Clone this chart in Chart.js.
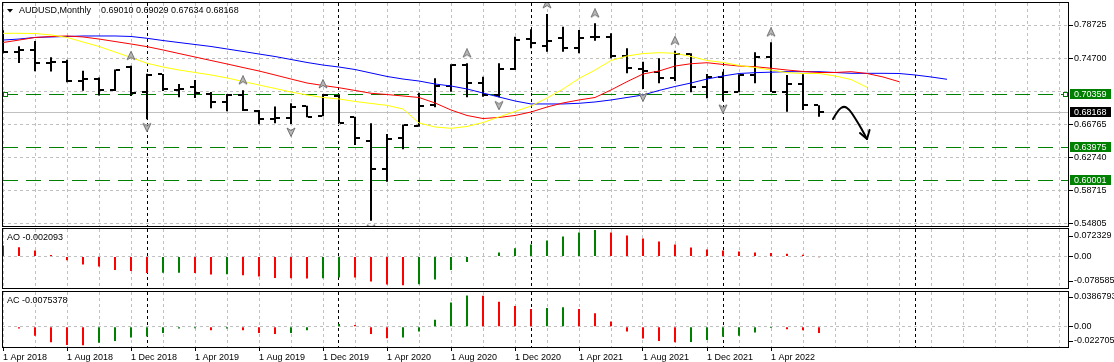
<!DOCTYPE html>
<html>
<head>
<meta charset="utf-8">
<title>AUDUSD, Monthly</title>
<script src="https://cdn.jsdelivr.net/npm/chart.js@4.4.1/dist/chart.umd.min.js"></script>
<style>
    html, body { margin: 0; padding: 0; background: #fff; }
    #wrap { position: relative; width: 1114px; height: 362px; overflow: hidden; background: #fff; }
    #wrap canvas { position: absolute; left: 0; }
</style>
</head>
<body>
<div id="wrap">
    <canvas id="mainChart" width="1114" height="227" style="top:0px"></canvas>
    <canvas id="aoChart" width="1114" height="62" style="top:227px"></canvas>
    <canvas id="acChart" width="1114" height="72" style="top:290px"></canvas>
</div>
<script>
// Monthly bars, first visible one is April 2018
const months = [
    'Apr 2018', 'May 2018', 'Jun 2018', 'Jul 2018', 'Aug 2018', 'Sep 2018', 'Oct 2018', 'Nov 2018', 'Dec 2018',
    'Jan 2019', 'Feb 2019', 'Mar 2019', 'Apr 2019', 'May 2019', 'Jun 2019', 'Jul 2019', 'Aug 2019', 'Sep 2019',
    'Oct 2019', 'Nov 2019', 'Dec 2019', 'Jan 2020', 'Feb 2020', 'Mar 2020', 'Apr 2020', 'May 2020', 'Jun 2020',
    'Jul 2020', 'Aug 2020', 'Sep 2020', 'Oct 2020', 'Nov 2020', 'Dec 2020', 'Jan 2021', 'Feb 2021', 'Mar 2021',
    'Apr 2021', 'May 2021', 'Jun 2021', 'Jul 2021', 'Aug 2021', 'Sep 2021', 'Oct 2021', 'Nov 2021', 'Dec 2021',
    'Jan 2022', 'Feb 2022', 'Mar 2022', 'Apr 2022', 'May 2022', 'Jun 2022', 'Jul 2022'
];

const opens = [
    0.7678, 0.7545, 0.7565, 0.7410, 0.7425, 0.7195, 0.7225, 0.7085, 0.7360, 0.7065,
    0.7275, 0.7090, 0.7125, 0.7035, 0.6940, 0.7025, 0.6840, 0.6738, 0.6748, 0.6895,
    0.6772, 0.7015, 0.6760, 0.6472, 0.6130, 0.6510, 0.6650, 0.6906, 0.7136, 0.7390,
    0.7168, 0.7027, 0.7341, 0.7700, 0.7623, 0.7712, 0.7591, 0.7724, 0.7724, 0.7498,
    0.7337, 0.7309, 0.7236, 0.7519, 0.7127, 0.7248, 0.7067, 0.7269, 0.7483, 0.7067,
    0.7160, 0.69010
];
const highs = [
    0.7810, 0.7615, 0.7680, 0.7482, 0.7452, 0.7320, 0.7240, 0.7335, 0.7380, 0.7285,
    0.7280, 0.7160, 0.7208, 0.7062, 0.7040, 0.7085, 0.6846, 0.6887, 0.6927, 0.6898,
    0.7039, 0.7027, 0.6765, 0.6685, 0.6557, 0.6670, 0.7055, 0.7229, 0.7398, 0.7410,
    0.7249, 0.7410, 0.7731, 0.7821, 0.8005, 0.7852, 0.7812, 0.7893, 0.7772, 0.7591,
    0.7429, 0.7470, 0.7562, 0.7531, 0.7281, 0.7309, 0.7277, 0.7543, 0.7664, 0.7269,
    0.7277, 0.69029
];
const lows = [
    0.7531, 0.7414, 0.7315, 0.7310, 0.7180, 0.7080, 0.7020, 0.7075, 0.7015, 0.6734,
    0.7075, 0.7000, 0.6990, 0.6867, 0.6830, 0.6835, 0.6673, 0.6685, 0.6677, 0.6758,
    0.6772, 0.6685, 0.6423, 0.5510, 0.5980, 0.6372, 0.6645, 0.6879, 0.7067, 0.7000,
    0.7007, 0.7000, 0.7329, 0.7591, 0.7550, 0.7550, 0.7531, 0.7683, 0.7470, 0.7289,
    0.7100, 0.7168, 0.7196, 0.7060, 0.6987, 0.6958, 0.7060, 0.7168, 0.7062, 0.6826,
    0.6846, 0.67634
];
const closes = [
    0.7545, 0.7565, 0.7410, 0.7425, 0.7195, 0.7225, 0.7085, 0.7330, 0.7050, 0.7270,
    0.7105, 0.7095, 0.7055, 0.6945, 0.7025, 0.6845, 0.6738, 0.6752, 0.6888, 0.6760,
    0.7027, 0.6693, 0.6512, 0.6130, 0.6496, 0.6660, 0.6894, 0.7136, 0.7390, 0.7168,
    0.7027, 0.7341, 0.7691, 0.7652, 0.7683, 0.7591, 0.7712, 0.7730, 0.7498, 0.7350,
    0.7320, 0.7236, 0.7519, 0.7127, 0.7248, 0.7067, 0.7269, 0.7483, 0.7067, 0.7160,
    0.6906, 0.68168
];

// Alligator lines, already shifted forward (jaw 8 bars, teeth 5, lips 3)
const jaw = [
    0.7691, 0.7703, 0.7722, 0.7728, 0.7734, 0.7740, 0.7740, 0.7740, 0.7734, 0.7712,
    0.7685, 0.7661, 0.7637, 0.7613, 0.7583, 0.7553, 0.7522, 0.7492, 0.7456, 0.7420,
    0.7389, 0.7365, 0.7335, 0.7293, 0.7251, 0.7220, 0.7196, 0.7160, 0.7136, 0.7100,
    0.7051, 0.7003, 0.6955, 0.6919, 0.6919, 0.6919, 0.6927, 0.6943, 0.6967, 0.6997,
    0.7027, 0.7082, 0.7130, 0.7172, 0.7220, 0.7257, 0.7287, 0.7297, 0.7303, 0.7309,
    0.7309, 0.7309, 0.7299, 0.7289, 0.7289, 0.7289, 0.7287, 0.7269, 0.7245, 0.7217
];
const teeth = [
    0.7661, 0.7691, 0.7722, 0.7734, 0.7740, 0.7728, 0.7703, 0.7673, 0.7643, 0.7611,
    0.7571, 0.7528, 0.7486, 0.7444, 0.7402, 0.7359, 0.7317, 0.7269, 0.7220, 0.7172,
    0.7142, 0.7115, 0.7082, 0.7048, 0.7033, 0.7015, 0.6997, 0.6931, 0.6846, 0.6780,
    0.6743, 0.6756, 0.6780, 0.6822, 0.6882, 0.6931, 0.6967, 0.6997, 0.7088, 0.7188,
    0.7281, 0.7317, 0.7377, 0.7405, 0.7417, 0.7396, 0.7377, 0.7369, 0.7350, 0.7329,
    0.7311, 0.7299, 0.7299, 0.7309, 0.7287, 0.7245, 0.7188
];
const lips = [
    0.7772, 0.7772, 0.7770, 0.7752, 0.7722, 0.7667, 0.7613, 0.7546, 0.7480, 0.7410,
    0.7365, 0.7329, 0.7299, 0.7269, 0.7233, 0.7190, 0.7148, 0.7106, 0.7063, 0.7027,
    0.6997, 0.6979, 0.6949, 0.6925, 0.6902, 0.6858, 0.6689, 0.6641, 0.6625, 0.6647,
    0.6695, 0.6762, 0.6828, 0.6894, 0.6991, 0.7100, 0.7226, 0.7329, 0.7444, 0.7498,
    0.7528, 0.7538, 0.7531, 0.7492, 0.7444, 0.7420, 0.7383, 0.7359, 0.7329, 0.7297,
    0.7287, 0.7287, 0.7257, 0.7214, 0.7120
];

// Fractal bars (index in months)
const upFractals = [8, 15, 20, 29, 34, 37, 42, 48];
const downFractals = [9, 18, 23, 31, 40, 45];

// Horizontal lines drawn on the chart
const levels = [0.70359, 0.63975, 0.60001];

// Price scale labels (0.70670 sits under the 0.70359 line label)
const priceTicks = [0.78725, 0.74700, 0.70670, 0.66765, 0.62740, 0.58715, 0.54805];
const hiddenPriceTicks = [0.70670];

// Awesome Oscillator and Accelerator
const aoValues = [
    0.0300, 0.0255, 0.0164, 0.0044, -0.0101, -0.0219, -0.0277, -0.0367, -0.0395, -0.0455,
    -0.0448, -0.0442, -0.0452, -0.0493, -0.0488, -0.0512, -0.0551, -0.0590, -0.0598, -0.0600,
    -0.0593, -0.0573, -0.0578, -0.0688, -0.0767, -0.078585, -0.0760, -0.0630, -0.0367, -0.0151,
    0.0015, 0.0110, 0.0227, 0.0329, 0.0438, 0.0548, 0.0658, 0.072329, 0.0658, 0.0575,
    0.0493, 0.0411, 0.0329, 0.0247, 0.0192, 0.0164, 0.0137, 0.0110, 0.0099, 0.0077,
    0.0049, -0.002093
];
const acValues = [
    0.0008, -0.0022, -0.0110, -0.0189, -0.0225, -0.022705, -0.0198, -0.0176, -0.0132, -0.0119,
    -0.0075, -0.0022, -0.0018, -0.0044, -0.0022, -0.0044, -0.0075, -0.0088, -0.0075, -0.0044,
    -0.0005, 0.0035, 0.0022, -0.0088, -0.0141, -0.0132, -0.0057, 0.0088, 0.0299, 0.0386793,
    0.0383, 0.0308, 0.0255, 0.0220, 0.0233, 0.0240, 0.0220, 0.0167, 0.0066, -0.0057,
    -0.0145, -0.0176, -0.0189, -0.0187, -0.0163, -0.0123, -0.0110, -0.0070, -0.0015, -0.0031,
    -0.0044, -0.0075378
];

// Hand drawn arrow after the last bar: [bar index, price]
const handArrow = [[51.875, 0.6737], [52.19, 0.6846], [52.56, 0.6894], [52.88, 0.6858], [53.25, 0.6749], [53.63, 0.6629], [54.0, 0.6496]];
const handArrowHead = [[53.56, 0.6568], [54.0, 0.6496], [54.16, 0.6605]];

// Visible ranges of the three panes
const X_MIN = -0.0625, X_MAX = 66.625;
const PRICE_MIN = 0.54452, PRICE_MAX = 0.81382;
const AO_MIN = -0.08631, AO_MAX = 0.07535;
const AC_MIN = -0.02489, AC_MAX = 0.04287;

const FONT = { family: '"Liberation Sans", Arial, sans-serif', size: 9 };
const FONT_CSS = '9px "Liberation Sans", Arial, sans-serif';
const GREEN = '#008000';
const RED = '#ff0000';

Chart.defaults.animation = false;
Chart.defaults.events = [];
Chart.defaults.font.family = FONT.family;
Chart.defaults.font.size = FONT.size;
Chart.defaults.plugins.legend.display = false;
Chart.defaults.plugins.tooltip.enabled = false;

// Vertical grid: every second month, January in black
const isJanuary = i => (i + 3) % 12 === 0;
const hasDateLabel = i => i % 4 === 0 && i < months.length;
const xTickValues = [];
for (let i = 0; i <= 66; i++) {
    if (i % 2 === 0 || isJanuary(i)) xTickValues.push(i);
}

// no extra room for labels sticking out of the pane
function noPadding(s) {
    s.paddingTop = 0;
    s.paddingBottom = 0;
    s.paddingLeft = 0;
    s.paddingRight = 0;
}

function xScale(showLabels) {
    return {
        type: 'linear',
        min: X_MIN,
        max: X_MAX,
        offset: false,
        afterBuildTicks: s => { s.ticks = xTickValues.map(v => ({ value: v })); },
        afterFit: s => { s.height = showLabels ? 15 : 0; noPadding(s); },
        grid: {
            offset: false,
            color: c => isJanuary(c.tick.value) ? '#000000' : '#c0c0c0',
            drawTicks: showLabels,
            tickLength: 4,
            tickColor: c => hasDateLabel(c.tick.value) ? '#000000' : 'rgba(0,0,0,0)',
            tickBorderDash: []
        },
        border: { display: false, dash: [3, 3] },
        ticks: {
            display: showLabels,
            autoSkip: false,
            maxRotation: 0,
            align: 'start',
            padding: 1,
            color: '#000',
            font: FONT,
            callback: v => hasDateLabel(v) ? '1 ' + months[v] : ''
        }
    };
}

function oscScale(min, max) {
    return {
        position: 'right',
        min: min,
        max: max,
        beginAtZero: false,
        afterBuildTicks: s => { s.ticks = [{ value: 0 }]; },
        afterFit: s => { s.width = 45; noPadding(s); },
        grid: { color: '#c0c0c0', tickLength: 4, tickColor: '#000', tickBorderDash: [] },
        border: { display: false, dash: [3, 3] },
        ticks: { padding: 1, color: '#000', font: FONT, callback: v => v.toFixed(2) }
    };
}

// Small images used as point styles
function makeTick(side) {
    const c = document.createElement('canvas');
    c.width = 10; c.height = 2;
    const g = c.getContext('2d');
    g.fillStyle = '#000';
    g.fillRect(side === 'left' ? 0 : 6, 0, 4, 2);
    return c;
}

function makeFractal(up) {
    const c = document.createElement('canvas');
    c.width = 10; c.height = up ? 30 : 26;
    const g = c.getContext('2d');
    const cy = up ? 5 : 21;
    const d = up ? 1 : -1;
    g.beginPath();
    g.moveTo(5, cy - 4.5 * d);
    g.lineTo(9, cy + 4 * d);
    g.lineTo(5, cy + 1.5 * d);
    g.lineTo(1, cy + 4 * d);
    g.closePath();
    g.fillStyle = '#b8b8b8';
    g.fill();
    g.strokeStyle = '#707070';
    g.lineWidth = 1;
    g.stroke();
    return c;
}

function barColors(values) {
    return values.map((v, i) => (i === 0 || v > values[i - 1]) ? GREEN : RED);
}

function label(ctx, text, x, y, color) {
    ctx.fillStyle = color;
    ctx.font = FONT_CSS;
    ctx.textBaseline = 'middle';
    ctx.textAlign = 'left';
    ctx.fillText(text, x, y);
}

// Black frame around each pane
const paneFrame = {
    id: 'paneFrame',
    afterDraw(chart) {
        const { ctx, chartArea: a } = chart;
        ctx.save();
        ctx.strokeStyle = '#000';
        ctx.lineWidth = 1;
        ctx.setLineDash([]);
        ctx.strokeRect(a.left + 0.5, a.top - 0.5, a.right - a.left - 1, a.bottom - a.top + 1);
        ctx.restore();
    }
};

// Lines, price labels, header and drawing of the main pane
const mainOverlay = {
    id: 'mainOverlay',
    beforeDatasetsDraw(chart) {
        const { ctx, chartArea: a, scales: { y } } = chart;
        const last = closes[closes.length - 1];
        ctx.save();
        ctx.beginPath();
        ctx.rect(a.left, a.top, a.right - a.left, a.bottom - a.top);
        ctx.clip();
        ctx.lineWidth = 1;

        const yc = Math.round(y.getPixelForValue(last)) + 0.5;
        ctx.strokeStyle = '#c0c0c0';
        ctx.beginPath(); ctx.moveTo(a.left, yc); ctx.lineTo(a.right, yc); ctx.stroke();

        ctx.strokeStyle = GREEN;
        ctx.setLineDash([15, 8]);
        levels.forEach(v => {
            const yl = Math.round(y.getPixelForValue(v)) + 0.5;
            ctx.beginPath(); ctx.moveTo(a.left + 1, yl); ctx.lineTo(a.right, yl); ctx.stroke();
        });

        // selected line anchors
        ctx.setLineDash([]);
        const ys = Math.round(y.getPixelForValue(levels[0]));
        ctx.fillStyle = '#fff';
        [a.left + 1, a.right - 6].forEach(xs => {
            ctx.fillRect(xs, ys - 2, 5, 5);
            ctx.strokeRect(xs + 0.5, ys - 1.5, 4, 4);
        });
        ctx.restore();
    },
    afterDatasetsDraw(chart) {
        const { ctx, scales: { x, y } } = chart;
        const pts = handArrow.map(([i, p]) => [x.getPixelForValue(i), y.getPixelForValue(p)]);
        ctx.save();
        ctx.strokeStyle = '#000';
        ctx.lineWidth = 2;
        ctx.lineCap = 'round';
        ctx.lineJoin = 'round';
        ctx.beginPath();
        ctx.moveTo(pts[0][0], pts[0][1]);
        for (let k = 1; k < pts.length - 1; k++) {
            const mx = (pts[k][0] + pts[k + 1][0]) / 2;
            const my = (pts[k][1] + pts[k + 1][1]) / 2;
            ctx.quadraticCurveTo(pts[k][0], pts[k][1], mx, my);
        }
        ctx.lineTo(pts[pts.length - 1][0], pts[pts.length - 1][1]);
        ctx.stroke();
        const head = handArrowHead.map(([i, p]) => [x.getPixelForValue(i), y.getPixelForValue(p)]);
        ctx.beginPath();
        ctx.moveTo(head[0][0], head[0][1]);
        ctx.lineTo(head[1][0], head[1][1]);
        ctx.lineTo(head[2][0], head[2][1]);
        ctx.stroke();
        ctx.restore();
    },
    afterDraw(chart) {
        const { ctx, chartArea: a, scales: { y } } = chart;
        const last = closes.length - 1;
        ctx.save();

        // price boxes on the right scale
        const boxes = levels.map(v => [v, GREEN]).concat([[closes[last], '#000']]);
        boxes.forEach(([v, color]) => {
            const yl = Math.round(y.getPixelForValue(v));
            ctx.fillStyle = color;
            ctx.fillRect(a.right + 1, yl - 5, 41, 10);
            label(ctx, v.toFixed(5), a.right + 5, yl + 0.5, '#fff');
        });

        // header
        ctx.fillStyle = '#000';
        ctx.beginPath();
        ctx.moveTo(7, 9); ctx.lineTo(13, 9); ctx.lineTo(10, 12.5); ctx.closePath();
        ctx.fill();
        label(ctx, 'AUDUSD,Monthly', 19, 11, '#000');
        const ohlc = [opens[last], highs[last], lows[last], closes[last]].map(v => v.toFixed(5)).join(' ');
        label(ctx, ohlc, 101, 11, '#000');
        ctx.restore();
    }
};

// Name and range labels of an oscillator pane
function oscLabels(name, values, lastDigits, maxDigits, minDigits, topOff, botOff) {
    return {
        id: 'oscLabels',
        afterDraw(chart) {
            const { ctx, chartArea: a } = chart;
            const hi = Math.max(...values);
            const lo = Math.min(...values);
            ctx.save();
            label(ctx, name + ' ' + values[values.length - 1].toFixed(lastDigits), 7, a.top + 9, '#000');
            label(ctx, hi.toFixed(maxDigits), a.right + 5, a.top + topOff, '#000');
            label(ctx, lo.toFixed(minDigits), a.right + 5, a.bottom - botOff, '#000');
            ctx.strokeStyle = '#000';
            ctx.lineWidth = 1;
            [a.top + topOff, a.bottom - botOff].forEach(yy => {
                const yr = Math.round(yy) + 0.5;
                ctx.beginPath(); ctx.moveTo(a.right, yr); ctx.lineTo(a.right + 4, yr); ctx.stroke();
            });
            ctx.restore();
        }
    };
}

function initMainChart() {
    const ctx = document.getElementById('mainChart').getContext('2d');
    const upImg = makeFractal(true);
    const downImg = makeFractal(false);
    const leftTick = makeTick('left');
    const rightTick = makeTick('right');

    new Chart(ctx, {
        type: 'line',
        data: {
            datasets: [
                {
                    data: upFractals.map(i => ({ x: i, y: highs[i] })),
                    showLine: false, pointStyle: upImg, pointRadius: 5
                },
                {
                    data: downFractals.map(i => ({ x: i, y: lows[i] })),
                    showLine: false, pointStyle: downImg, pointRadius: 5
                },
                {
                    data: lips.map((v, i) => ({ x: i, y: v })),
                    borderColor: '#ffff00', borderWidth: 1, pointRadius: 0, tension: 0
                },
                {
                    data: teeth.map((v, i) => ({ x: i, y: v })),
                    borderColor: RED, borderWidth: 1, pointRadius: 0, tension: 0
                },
                {
                    data: jaw.map((v, i) => ({ x: i, y: v })),
                    borderColor: '#0000ff', borderWidth: 1, pointRadius: 0, tension: 0
                },
                {
                    data: opens.map((v, i) => ({ x: i, y: v })),
                    showLine: false, pointStyle: leftTick, pointRadius: 3
                },
                {
                    data: closes.map((v, i) => ({ x: i, y: v })),
                    showLine: false, pointStyle: rightTick, pointRadius: 3
                },
                {
                    type: 'bar',
                    data: highs.map((h, i) => ({ x: i, y: [lows[i], h] })),
                    backgroundColor: '#000',
                    borderWidth: 0,
                    barThickness: 2,
                    inflateAmount: 0
                }
            ]
        },
        options: {
            responsive: false,
            layout: { autoPadding: false, padding: { left: 2, top: 3, right: 0, bottom: 1 } },
            scales: {
                x: xScale(false),
                y: {
                    position: 'right',
                    min: PRICE_MIN,
                    max: PRICE_MAX,
                    beginAtZero: false,
                    afterBuildTicks: s => { s.ticks = priceTicks.map(v => ({ value: v })); },
                    afterFit: s => { s.width = 45; noPadding(s); },
                    grid: {
                        color: '#c0c0c0',
                        tickLength: 4,
                        tickColor: c => hiddenPriceTicks.includes(c.tick.value) ? 'rgba(0,0,0,0)' : '#000',
                        tickBorderDash: []
                    },
                    border: { display: false, dash: [3, 3] },
                    ticks: {
                        autoSkip: false,
                        padding: 1,
                        color: '#000',
                        font: FONT,
                        callback: v => hiddenPriceTicks.includes(v) ? '' : v.toFixed(5)
                    }
                }
            }
        },
        plugins: [mainOverlay, paneFrame]
    });
}

function initOscChart(id, name, values, min, max, showDates, digits) {
    const ctx = document.getElementById(id).getContext('2d');
    new Chart(ctx, {
        type: 'bar',
        data: {
            datasets: [{
                data: values.map((v, i) => ({ x: i, y: v })),
                backgroundColor: barColors(values),
                borderWidth: 0,
                barThickness: 2,
                inflateAmount: 0
            }]
        },
        options: {
            responsive: false,
            layout: { autoPadding: false, padding: { left: 2, top: 2, right: 0, bottom: showDates ? 0 : 1 } },
            scales: {
                x: xScale(showDates),
                y: oscScale(min, max)
            }
        },
        plugins: [paneFrame, oscLabels(name, values, digits[0], digits[1], digits[2], digits[3], digits[4])]
    });
}

document.addEventListener('DOMContentLoaded', () => {
    initMainChart();
    initOscChart('aoChart', 'AO', aoValues, AO_MIN, AO_MAX, false, [6, 6, 6, 7, 7]);
    initOscChart('acChart', 'AC', acValues, AC_MIN, AC_MAX, true, [7, 7, 6, 5, 6]);
});
</script>
</body>
</html>
